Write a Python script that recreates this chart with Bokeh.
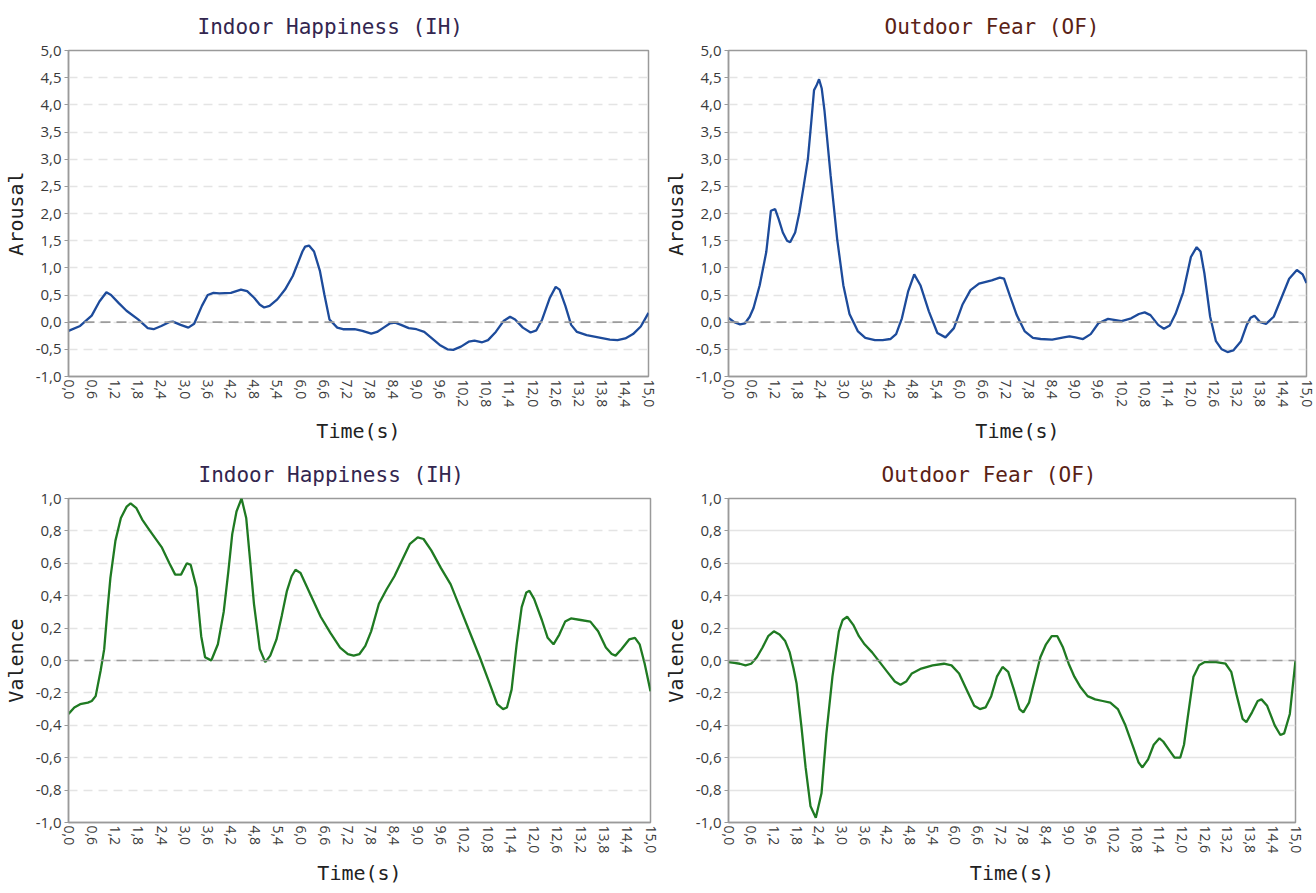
from bokeh.plotting import figure
from bokeh.models import Range1d, FixedTicker, Span, CustomJSTickFormatter
from bokeh.layouts import column, row
from bokeh.embed import file_html
from bokeh.resources import INLINE

# ---------------- data ----------------
x_ticks = [0.0, 0.6, 1.2, 1.8, 2.4, 3.0, 3.6, 4.2, 4.8, 5.4, 6.0, 6.6, 7.2, 7.8,
           8.4, 9.0, 9.6, 10.2, 10.8, 11.4, 12.0, 12.6, 13.2, 13.8, 14.4, 15.0]
arousal_ticks = [-1.0, -0.5, 0.0, 0.5, 1.0, 1.5, 2.0, 2.5, 3.0, 3.5, 4.0, 4.5, 5.0]
valence_ticks = [-1.0, -0.8, -0.6, -0.4, -0.2, 0.0, 0.2, 0.4, 0.6, 0.8, 1.0]

titles = ["Indoor Happiness (IH)", "Outdoor Fear (OF)"]

ih_arousal_t = [0.0, 0.3, 0.6, 0.8, 0.98, 1.1, 1.3, 1.5, 1.8, 2.05, 2.2, 2.4, 2.6, 2.7, 2.9,
                3.1, 3.25, 3.45, 3.6, 3.75, 3.9, 4.2, 4.46, 4.62, 4.8, 4.95, 5.06, 5.2, 5.4,
                5.6, 5.8, 5.95, 6.05, 6.12, 6.22, 6.35, 6.5, 6.62, 6.75, 6.95, 7.1, 7.4,
                7.6, 7.83, 7.98, 8.15, 8.32, 8.45, 8.6, 8.8, 9.0, 9.2, 9.4, 9.6, 9.8, 9.95,
                10.15, 10.35, 10.5, 10.7, 10.85, 11.05, 11.25, 11.42, 11.55, 11.75, 11.95,
                12.1, 12.25, 12.45, 12.6, 12.7, 12.85, 13.0, 13.15, 13.4, 13.7, 14.0, 14.2,
                14.4, 14.6, 14.8, 15.0]
ih_arousal_v = [-0.16, -0.07, 0.12, 0.38, 0.55, 0.5, 0.35, 0.21, 0.05, -0.11, -0.13, -0.07,
                0.0, 0.01, -0.05, -0.1, -0.03, 0.3, 0.5, 0.54, 0.53, 0.54, 0.6, 0.57, 0.45,
                0.32, 0.27, 0.3, 0.42, 0.6, 0.85, 1.12, 1.3, 1.39, 1.41, 1.3, 0.95, 0.5,
                0.05, -0.1, -0.13, -0.13, -0.16, -0.21, -0.18, -0.1, -0.02, -0.01, -0.05,
                -0.11, -0.13, -0.18, -0.3, -0.42, -0.5, -0.51, -0.45, -0.36, -0.34, -0.37,
                -0.33, -0.18, 0.02, 0.1, 0.05, -0.1, -0.19, -0.15, 0.05, 0.45, 0.65, 0.6,
                0.3, -0.05, -0.18, -0.24, -0.28, -0.32, -0.33, -0.3, -0.22, -0.08, 0.17]

of_arousal_t = [0.0, 0.15, 0.3, 0.43, 0.55, 0.65, 0.81, 0.98, 1.1, 1.21, 1.3, 1.41, 1.52,
                1.6, 1.73, 1.84, 1.95, 2.06, 2.15, 2.22, 2.28, 2.35, 2.42, 2.49, 2.65, 2.82,
                2.98, 3.14, 3.36, 3.55, 3.8, 4.0, 4.2, 4.35, 4.5, 4.66, 4.82, 4.98, 5.2,
                5.42, 5.63, 5.85, 6.07, 6.28, 6.5, 6.83, 7.04, 7.15, 7.31, 7.48, 7.69, 7.9,
                8.1, 8.4, 8.7, 8.85, 9.0, 9.2, 9.4, 9.6, 9.85, 10.2, 10.45, 10.65, 10.8,
                10.95, 11.15, 11.3, 11.45, 11.6, 11.8, 12.0, 12.15, 12.25, 12.35, 12.5,
                12.65, 12.8, 12.95, 13.1, 13.3, 13.45, 13.55, 13.65, 13.8, 13.95, 14.15,
                14.35, 14.55, 14.75, 14.9, 15.0]
of_arousal_v = [0.08, 0.0, -0.04, -0.02, 0.1, 0.26, 0.68, 1.29, 2.05, 2.08, 1.9, 1.65, 1.5,
                1.47, 1.65, 2.02, 2.5, 3.0, 3.7, 4.27, 4.35, 4.47, 4.3, 3.9, 2.7, 1.53,
                0.68, 0.15, -0.17, -0.29, -0.33, -0.33, -0.31, -0.22, 0.07, 0.56, 0.88,
                0.68, 0.2, -0.2, -0.28, -0.11, 0.32, 0.59, 0.71, 0.77, 0.82, 0.8, 0.47,
                0.13, -0.17, -0.29, -0.31, -0.32, -0.28, -0.26, -0.28, -0.31, -0.22, -0.02,
                0.06, 0.02, 0.07, 0.15, 0.18, 0.13, -0.05, -0.12, -0.06, 0.15, 0.55, 1.2,
                1.38, 1.3, 0.9, 0.1, -0.35, -0.5, -0.55, -0.52, -0.35, -0.05, 0.08, 0.12,
                0.0, -0.03, 0.1, 0.45, 0.8, 0.96, 0.88, 0.72]

ih_valence_t = [0.0, 0.15, 0.3, 0.5, 0.6, 0.7, 0.83, 0.92, 1.0, 1.08, 1.21, 1.35, 1.5, 1.6,
                1.75, 1.9, 2.1, 2.4, 2.6, 2.75, 2.9, 3.05, 3.15, 3.3, 3.42, 3.52, 3.6, 3.68,
                3.85, 4.0, 4.12, 4.22, 4.33, 4.46, 4.58, 4.68, 4.78, 4.93, 5.07, 5.2, 5.36,
                5.5, 5.63, 5.75, 5.85, 5.98, 6.25, 6.5, 6.75, 7.0, 7.2, 7.35, 7.5, 7.65,
                7.8, 8.0, 8.2, 8.4, 8.6, 8.8, 9.0, 9.15, 9.35, 9.6, 9.85, 10.1, 10.35, 10.6,
                10.85, 11.05, 11.2, 11.3, 11.42, 11.55, 11.68, 11.8, 11.88, 12.0, 12.2,
                12.35, 12.5, 12.65, 12.8, 12.95, 13.2, 13.45, 13.65, 13.85, 14.0, 14.1,
                14.25, 14.45, 14.6, 14.72, 14.85, 15.0]
ih_valence_v = [-0.33, -0.29, -0.27, -0.26, -0.25, -0.22, -0.06, 0.07, 0.3, 0.51, 0.74,
                0.88, 0.95, 0.97, 0.94, 0.87, 0.8, 0.7, 0.6, 0.53, 0.53, 0.6, 0.59, 0.45,
                0.15, 0.02, 0.01, 0.0, 0.1, 0.3, 0.55, 0.78, 0.92, 1.0, 0.88, 0.62, 0.35,
                0.07, -0.01, 0.03, 0.13, 0.28, 0.43, 0.52, 0.56, 0.54, 0.4, 0.27, 0.17,
                0.08, 0.04, 0.03, 0.04, 0.09, 0.18, 0.35, 0.44, 0.52, 0.62, 0.72, 0.76,
                0.75, 0.68, 0.57, 0.47, 0.32, 0.17, 0.02, -0.14, -0.27, -0.3, -0.29,
                -0.18, 0.1, 0.33, 0.42, 0.43, 0.38, 0.25, 0.14, 0.1, 0.16, 0.24, 0.26,
                0.25, 0.24, 0.18, 0.08, 0.04, 0.03, 0.07, 0.13, 0.14, 0.1, -0.02, -0.19]

of_valence_t = [0.0, 0.15, 0.3, 0.45, 0.6, 0.75, 0.9, 1.05, 1.2, 1.35, 1.5, 1.62, 1.72,
                1.8, 1.93, 2.04, 2.17, 2.31, 2.46, 2.59, 2.75, 2.92, 3.02, 3.14, 3.3, 3.45,
                3.6, 3.8, 4.0, 4.2, 4.4, 4.55, 4.7, 4.85, 5.1, 5.4, 5.7, 5.9, 6.1, 6.3,
                6.5, 6.65, 6.8, 6.95, 7.1, 7.25, 7.4, 7.55, 7.7, 7.8, 7.95, 8.1, 8.25,
                8.4, 8.55, 8.7, 8.85, 9.0, 9.15, 9.3, 9.5, 9.7, 9.9, 10.1, 10.3, 10.5,
                10.7, 10.85, 10.95, 11.1, 11.25, 11.4, 11.5, 11.65, 11.8, 11.95, 12.05,
                12.15, 12.3, 12.45, 12.6, 12.9, 13.15, 13.3, 13.45, 13.6, 13.7, 13.85,
                14.0, 14.1, 14.25, 14.45, 14.6, 14.7, 14.85, 15.0]
of_valence_v = [-0.01, -0.015, -0.02, -0.03, -0.02, 0.02, 0.08, 0.15, 0.18, 0.16, 0.12,
                0.05, -0.05, -0.14, -0.41, -0.66, -0.9, -0.97, -0.82, -0.45, -0.1, 0.18,
                0.25, 0.27, 0.22, 0.15, 0.1, 0.05, -0.01, -0.07, -0.13, -0.15, -0.13,
                -0.08, -0.05, -0.03, -0.02, -0.03, -0.08, -0.18, -0.28, -0.3, -0.29,
                -0.22, -0.1, -0.04, -0.07, -0.18, -0.3, -0.32, -0.26, -0.12, 0.02, 0.1,
                0.15, 0.15, 0.08, -0.02, -0.1, -0.16, -0.22, -0.24, -0.25, -0.26, -0.3,
                -0.4, -0.53, -0.63, -0.66, -0.61, -0.52, -0.48, -0.5, -0.55, -0.6, -0.6,
                -0.52, -0.35, -0.1, -0.03, -0.01, -0.01, -0.02, -0.07, -0.22, -0.36,
                -0.38, -0.32, -0.25, -0.24, -0.28, -0.4, -0.46, -0.45, -0.33, 0.0]

# ---------------- styling ----------------
MONO = "DejaVu Sans Mono"
SANS = "Open Sans"
BLUE = "#1d4b9b"
GREEN = "#1f7a22"
TITLE_COLORS = ["#33264f", "#5a2216"]

fmt = CustomJSTickFormatter(code="return tick.toFixed(1).replace('.', ',');")


def make(title, tcolor, ylabel, t, v, color, yticks, width, height,
         bl, br, bt, bb, toffset, xlab_standoff, solid_grid=False):
    p = figure(width=width, height=height, output_backend="svg",
               toolbar_location=None,
               x_range=Range1d(0, 15), y_range=Range1d(yticks[0], yticks[-1]),
               min_border_left=bl, min_border_right=br,
               min_border_top=bt, min_border_bottom=bb)
    p.title.text = title
    p.title.text_font = MONO
    p.title.text_font_size = "21px"
    p.title.text_font_style = "normal"
    p.title.text_color = tcolor
    p.title.align = "left"
    p.title.offset = toffset
    p.title.standoff = 24

    p.outline_line_color = "#9a9a9a"
    p.outline_line_width = 1.5
    p.background_fill_color = "white"
    p.border_fill_color = "white"

    p.xgrid.visible = False
    p.ygrid.grid_line_color = "#e4e4e4"
    p.ygrid.grid_line_width = 1.5
    if not solid_grid:
        p.ygrid.grid_line_dash = "9 6"

    for ax in (p.xaxis[0], p.yaxis[0]):
        ax.formatter = fmt
        ax.axis_line_color = "#9a9a9a"
        ax.axis_line_width = 1.5
        ax.major_tick_line_color = "#9a9a9a"
        ax.minor_tick_line_color = None
        ax.major_tick_in = 0
        ax.major_label_text_font = SANS
        ax.major_label_text_color = "#3a3a3a"
        ax.axis_label_text_font = MONO
        ax.axis_label_text_font_size = "20px"
        ax.axis_label_text_font_style = "normal"
        ax.axis_label_text_color = "#222222"

    p.xaxis.ticker = FixedTicker(ticks=x_ticks)
    p.xaxis.major_label_orientation = "vertical"
    p.xaxis.major_label_text_font_size = "14px"
    p.xaxis.major_tick_out = 0
    p.xaxis.major_label_standoff = 3
    p.xaxis.axis_label = "Time(s)"
    p.xaxis.axis_label_standoff = xlab_standoff

    p.yaxis.ticker = FixedTicker(ticks=yticks)
    p.yaxis.major_label_text_font_size = "15px"
    p.yaxis.major_tick_out = 4
    p.yaxis.major_label_standoff = 3
    p.yaxis.axis_label = ylabel
    p.yaxis.axis_label_standoff = 5

    p.add_layout(Span(location=0, dimension="width", line_color="#9c9c9c",
                      line_width=1.6, line_dash="10 6"))
    p.line(t, v, line_color=color, line_width=2.3)
    return p


p1 = make(titles[0], TITLE_COLORS[0], "Arousal", ih_arousal_t, ih_arousal_v, BLUE,
          arousal_ticks, 660, 448, 68, 12, 50, 72, 129, 9)
p2 = make(titles[1], TITLE_COLORS[1], "Arousal", of_arousal_t, of_arousal_v, BLUE,
          arousal_ticks, 656, 448, 64, 10, 50, 71, 156, 9)
p3 = make(titles[0], TITLE_COLORS[0], "Valence", ih_valence_t, ih_valence_v, GREEN,
          valence_ticks, 660, 444, 68, 10, 49, 67, 130, 5)
p4 = make(titles[1], TITLE_COLORS[1], "Valence", of_valence_t, of_valence_v, GREEN,
          valence_ticks, 656, 444, 60, 21, 49, 70, 153, 5, solid_grid=True)

layout = column(row(p1, p2), row(p3, p4))

open("out.html", "w").write(file_html(layout, INLINE))
